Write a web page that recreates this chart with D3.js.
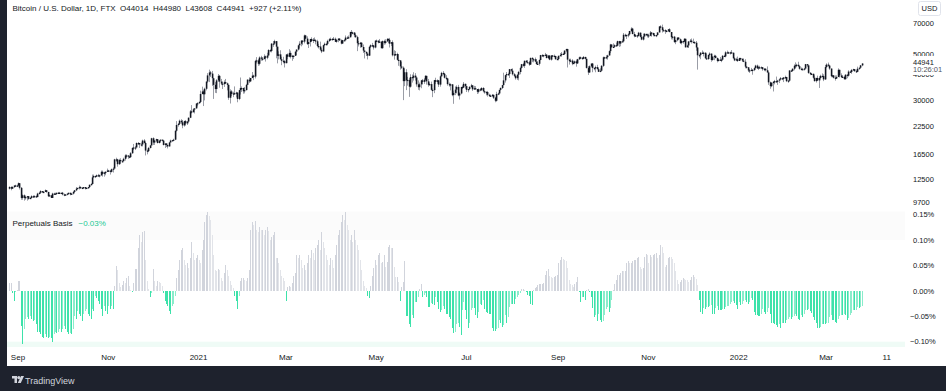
<!DOCTYPE html>
<html>
<head>
<meta charset="utf-8">
<script src="https://cdn.jsdelivr.net/npm/d3@7"></script>
<style>
  body { margin: 0; background: #1e222d; }
  svg text { font-family: "Liberation Sans", Arial, sans-serif; white-space: pre; }
  text.price { font-size: 7.5px; fill: #131722; }
  text.time { font-size: 8px; fill: #131722; text-anchor: middle; }
  text.legend { font-size: 8px; fill: #131722; }
  rect.col { shape-rendering: crispEdges; }
</style>
</head>
<body>
<script>
// daily BTCUSD (FTX), thousands of USD, from 2020-08-26 to 2022-03-25
var startDay = new Date(2020, 7, 26);
var firstOpen = 11.3;

var closes = [
  11.5,11.3,11.5,11.7,11.7,11.7,
  12.0,11.4,10.2,10.5,10.2,10.3,10.4,10.1,10.2,10.4,10.4,10.4,10.3,10.7,10.8,11.0,10.9,10.9,11.1,10.9,10.4,10.5,10.2,10.7,10.7,10.7,10.8,10.7,10.8,10.8,
  10.6,10.6,10.6,10.7,10.8,10.6,10.7,10.9,11.1,11.3,11.4,11.5,11.4,11.4,11.5,11.3,11.4,11.5,11.8,11.9,12.8,13.0,12.9,13.1,13.0,13.1,13.6,13.3,13.5,13.6,13.8,
  13.8,13.6,14.0,14.1,15.6,15.6,14.8,15.5,15.3,15.3,15.7,16.3,16.3,16.1,16.0,16.7,17.7,17.8,17.8,18.7,18.7,18.4,18.4,19.2,18.7,17.2,17.1,17.7,18.2,19.7,
  18.8,19.2,19.5,18.7,19.2,19.4,19.2,18.3,18.6,18.3,18.0,18.8,19.2,19.3,19.4,21.4,22.8,23.1,23.9,23.5,22.7,23.8,23.2,23.7,24.7,26.5,26.3,27.1,27.4,28.9,29.0,
  29.4,32.1,33.0,32.0,34.0,36.8,39.4,40.7,40.2,38.2,35.5,33.9,37.3,39.2,36.8,36.0,35.8,36.6,36.1,35.5,30.8,33.0,32.1,32.3,32.4,32.6,30.4,33.5,34.3,34.3,33.1,
  33.5,35.5,37.6,36.9,38.3,39.3,38.9,46.2,46.5,44.8,48.0,47.4,47.2,48.6,47.9,49.1,52.1,51.6,55.9,56.0,57.5,54.1,48.9,49.7,47.1,46.3,46.1,45.1,
  49.6,48.4,50.5,48.4,48.9,48.9,51.2,52.4,54.9,55.9,57.8,57.2,61.2,59.1,55.7,56.9,58.9,57.6,58.4,58.0,57.4,54.5,54.2,52.3,51.3,55.0,55.8,55.8,57.6,58.7,58.9,
  58.8,59.0,57.1,58.2,59.1,58.0,56.0,58.1,58.1,59.8,59.8,60.0,63.6,63.0,63.2,61.4,60.1,56.2,55.7,56.5,53.9,51.8,51.1,50.1,49.0,54.0,55.0,54.8,53.6,57.8,
  57.8,56.6,57.2,53.2,57.5,56.4,57.4,58.9,58.3,55.9,56.8,49.2,49.7,49.9,46.8,46.5,43.5,42.9,37.0,40.8,37.3,37.5,34.8,38.7,38.4,39.3,38.5,35.7,34.6,35.7,37.3,
  36.7,37.6,39.2,36.9,35.5,35.8,33.6,33.5,37.4,36.7,37.3,35.6,39.0,40.5,40.1,38.4,38.1,35.8,35.5,35.7,31.7,32.5,33.7,34.7,31.6,32.3,34.7,34.5,35.9,35.0,
  33.6,33.9,34.7,35.3,33.8,34.2,33.9,32.9,33.8,33.5,34.3,33.1,32.7,32.8,31.8,31.4,31.5,31.8,30.8,29.8,32.1,32.3,33.6,34.3,35.4,37.3,39.5,40.0,40.0,42.2,41.5,
  39.9,39.2,38.2,39.7,40.9,42.8,44.6,43.8,46.3,45.6,45.5,44.4,47.8,47.1,47.1,45.9,44.7,44.8,46.7,49.3,48.9,49.3,49.5,47.7,49.0,46.9,49.1,48.9,48.8,47.1,47.2,
  48.9,49.3,50.0,49.9,51.8,52.7,46.9,46.1,46.4,44.9,45.2,46.0,45.0,47.1,48.1,47.8,47.3,48.3,47.3,42.8,40.7,43.6,44.9,42.8,42.7,43.2,42.2,41.0,41.5,43.8,
  48.1,47.7,48.2,49.1,51.5,55.4,53.8,54.0,55.0,54.7,57.5,56.0,57.4,57.4,61.7,60.9,61.5,62.0,64.3,66.0,62.2,60.7,61.3,60.9,63.1,60.3,58.5,60.6,62.3,61.9,61.3,
  61.0,63.2,62.9,61.5,61.0,61.5,63.3,67.6,67.0,64.9,64.9,64.1,64.4,65.5,63.6,60.1,60.4,56.9,58.1,59.8,58.7,56.3,57.6,57.2,59.0,53.7,54.8,57.3,57.8,57.0,
  56.9,56.5,53.6,49.2,49.3,50.6,50.6,50.6,47.6,47.2,49.4,50.1,46.7,48.4,48.9,47.7,46.2,46.9,46.7,46.9,48.9,48.6,50.8,50.8,50.4,50.8,50.6,47.6,46.5,47.1,46.2,
  47.7,47.3,46.4,45.8,43.4,43.1,41.6,41.7,41.9,41.8,42.7,43.9,42.6,43.1,43.1,43.1,42.2,42.4,41.7,40.7,36.5,35.0,36.3,36.7,37.0,36.8,37.2,37.7,38.2,37.9,38.5,
  38.7,37.0,37.2,41.6,41.4,42.4,43.8,44.1,44.3,43.6,42.4,42.2,42.1,42.5,44.6,44.0,40.5,40.0,40.1,38.4,37.0,38.3,37.3,38.3,39.2,39.1,37.7,43.2,
  44.4,43.9,42.5,39.1,39.4,38.4,38.1,38.7,41.9,39.4,38.7,38.8,37.8,39.7,39.3,41.1,40.9,41.8,42.2,41.3,41.0,42.4,42.9,44.014,44.941
];

var highs = [
  11.6,11.6,11.6,11.7,11.8,11.8,
  12.1,12.0,11.5,10.6,10.6,10.4,10.4,10.4,10.3,10.5,10.5,10.5,10.5,10.8,10.9,11.1,11.0,11.0,11.2,11.1,10.9,10.6,10.5,10.8,10.8,10.8,10.8,10.9,10.9,10.8,
  10.9,10.7,10.6,10.7,10.8,10.8,10.7,11.0,11.1,11.5,11.4,11.7,11.6,11.5,11.5,11.5,11.4,11.5,11.8,12.0,13.2,13.2,13.0,13.2,13.3,13.2,13.8,13.8,13.6,13.7,14.1,
  13.9,13.8,14.1,14.3,15.7,15.9,15.7,15.7,15.8,15.5,15.9,16.5,16.5,16.3,16.2,16.9,17.8,18.5,18.1,18.8,18.9,18.7,18.8,19.4,19.5,18.9,17.4,17.9,18.3,19.8,
  19.9,19.3,19.6,19.5,19.2,19.4,19.4,19.3,18.6,18.6,18.3,18.9,19.4,19.3,19.6,21.5,23.8,23.3,24.2,24.3,24.1,23.9,24.1,23.8,24.8,26.9,28.4,27.4,27.4,28.9,29.3,
  29.6,33.3,34.8,33.6,34.4,36.9,40.4,42.0,41.4,41.4,38.4,36.6,37.8,40.0,39.6,37.9,36.8,37.3,37.9,36.4,35.6,33.8,33.5,32.9,34.9,32.9,32.6,33.6,38.5,34.9,34.4,
  34.7,35.9,37.7,38.6,38.3,40.9,39.7,46.8,48.2,47.3,48.6,48.9,48.2,49.7,49.0,50.6,52.6,52.5,56.3,57.6,58.4,57.5,54.2,51.4,52.0,48.4,48.4,46.6,
  49.8,50.2,52.6,51.8,49.4,49.2,51.4,52.4,54.9,57.4,58.1,58.0,61.8,61.6,60.6,56.9,58.9,60.0,59.5,59.9,58.6,58.4,55.8,57.2,53.2,55.1,56.6,56.5,58.4,59.4,59.8,
  59.5,60.2,59.8,58.5,59.3,59.4,58.6,58.3,58.9,61.2,60.7,61.2,63.8,65.0,63.8,63.5,62.5,61.0,57.6,57.0,56.8,55.4,52.0,51.2,50.5,54.4,55.5,56.4,55.2,58.0,
  58.5,57.9,58.9,57.2,57.9,58.4,58.7,59.5,59.3,59.6,56.9,58.0,52.0,51.6,50.6,49.8,46.6,45.8,43.5,42.5,42.2,38.8,38.3,39.9,39.8,40.8,40.4,38.8,37.3,36.4,37.5,
  37.9,38.2,39.5,39.3,37.9,36.4,36.8,34.1,37.5,38.4,37.7,37.4,39.4,41.0,41.3,40.5,39.5,38.2,36.4,36.1,35.8,33.3,34.9,35.3,35.5,32.7,34.7,35.3,36.6,36.0,
  35.0,33.9,35.0,35.9,35.3,35.1,35.0,33.9,34.1,34.2,34.6,34.6,33.3,33.1,33.2,32.2,31.9,32.1,31.9,31.1,32.9,32.6,33.6,34.5,35.4,40.6,39.5,40.9,40.6,42.3,42.4,
  42.6,40.4,39.7,39.9,41.4,43.4,44.7,45.3,46.4,46.7,46.7,46.2,47.9,48.1,47.4,48.0,47.1,46.0,47.0,49.4,49.8,49.5,50.5,49.8,49.3,49.3,49.2,49.3,49.6,48.9,48.2,
  49.0,50.4,51.0,50.6,51.9,52.9,52.9,47.4,47.4,47.1,45.9,46.4,46.9,47.3,48.5,48.5,48.2,48.8,48.4,47.4,43.6,44.0,44.9,45.2,42.9,43.9,44.3,42.8,42.6,44.1,
  48.5,48.4,49.2,49.5,51.9,55.8,55.4,56.1,55.5,56.6,57.8,57.7,57.6,58.6,62.9,62.4,61.7,62.7,64.4,67.0,66.6,63.7,61.7,61.5,63.7,63.3,61.5,62.5,62.9,62.3,62.4,
  62.4,64.3,63.5,63.1,62.6,61.6,63.3,67.8,68.5,69.0,65.6,65.5,65.0,65.5,66.3,63.6,60.8,60.9,58.3,59.8,60.0,59.2,57.9,57.7,59.4,59.1,55.3,57.4,58.8,59.2,
  59.1,57.4,57.6,53.9,49.7,50.9,51.9,51.2,50.8,50.1,49.5,50.8,50.2,48.7,49.5,49.4,48.0,47.3,48.3,47.5,49.3,49.5,51.4,51.8,51.2,51.2,52.1,50.7,48.1,47.9,48.5,
  47.9,47.9,47.5,47.5,47.1,43.7,43.1,42.3,42.8,42.2,43.1,44.3,44.4,43.4,43.8,43.5,43.2,42.7,42.6,43.5,41.1,36.8,36.5,37.0,37.5,38.9,37.5,38.0,38.7,38.4,38.7,
  39.3,38.8,37.4,41.7,41.9,42.6,44.5,45.5,44.8,45.8,43.9,43.0,42.8,42.8,44.7,44.6,44.1,40.9,40.5,40.2,39.4,38.4,39.3,39.0,39.7,40.3,39.9,44.2,
  45.0,45.4,44.1,42.5,39.6,39.5,39.4,39.4,42.6,42.0,40.3,39.4,39.3,39.9,39.9,41.7,41.5,42.3,42.4,42.3,42.0,43.4,43.0,44.2,44.98
];

var lows = [
  11.2,11.1,11.3,11.4,11.6,11.5,
  11.6,11.2,10.0,10.0,9.9,10.0,9.9,10.0,10.1,10.2,10.2,10.3,10.2,10.3,10.6,10.7,10.8,10.8,10.9,10.8,10.3,10.4,10.2,10.2,10.6,10.7,10.6,10.7,10.7,10.7,
  10.5,10.4,10.5,10.5,10.6,10.5,10.6,10.6,10.8,11.0,11.3,11.2,11.3,11.3,11.3,11.2,11.3,11.3,11.4,11.7,11.9,12.7,12.7,12.9,12.9,12.8,13.0,12.9,12.9,13.1,13.6,
  13.6,13.2,13.5,13.5,14.1,15.2,14.4,14.7,14.9,15.1,15.3,15.4,15.9,15.7,15.8,15.9,16.6,17.3,17.3,17.8,18.3,17.7,18.0,18.0,18.6,16.3,16.5,16.9,17.6,18.2,
  18.3,18.3,18.9,18.6,18.6,18.9,19.0,18.2,17.7,17.9,17.6,18.0,18.8,19.0,19.1,19.3,21.2,22.4,22.8,23.1,22.0,22.4,22.7,22.8,23.5,24.6,25.9,26.1,25.9,27.3,28.0,
  28.8,29.1,32.0,28.1,29.9,33.4,36.3,36.6,38.7,35.1,30.4,32.5,32.4,36.7,34.4,35.4,33.9,34.7,35.8,33.4,30.1,28.9,31.4,31.0,31.9,30.9,29.3,30.0,31.9,32.8,32.2,
  32.3,33.4,35.4,36.2,36.6,38.2,37.4,38.1,45.0,43.8,44.0,46.3,46.3,47.0,45.9,47.1,48.9,50.9,50.8,54.0,55.5,47.6,45.0,47.0,46.8,44.1,45.0,43.0,
  45.0,47.1,48.1,47.5,46.3,47.2,48.9,49.3,51.9,53.1,54.3,55.0,56.1,59.0,55.1,53.3,54.2,57.0,56.3,57.9,55.5,53.7,53.0,51.7,50.4,51.3,54.4,54.7,54.9,57.0,57.9,
  57.9,58.4,57.0,56.5,56.8,57.6,55.5,55.8,57.7,57.9,59.0,59.4,59.9,61.0,62.0,60.0,59.6,51.5,54.2,53.4,53.6,50.5,47.5,48.8,47.0,48.8,53.3,53.9,52.4,53.1,
  57.1,56.1,56.5,53.1,52.9,55.3,55.5,56.9,56.2,53.6,54.5,48.6,46.9,48.9,46.6,43.8,42.0,42.3,30.0,35.0,33.5,35.2,31.1,34.4,36.4,37.2,37.2,34.8,33.6,33.4,34.2,
  35.7,35.9,37.2,35.6,34.8,35.3,33.4,31.0,32.4,35.8,35.9,34.7,34.8,38.8,39.5,38.1,37.4,35.2,34.8,33.4,31.3,28.8,31.7,32.3,31.3,30.2,32.0,33.9,34.3,34.0,
  32.8,32.7,33.6,34.4,33.2,33.6,33.8,32.1,32.3,33.1,33.3,32.7,32.2,31.6,31.2,31.1,31.2,31.1,30.4,29.3,29.5,31.7,32.0,33.4,33.9,35.3,36.4,38.8,39.3,38.3,41.0,
  39.4,38.7,37.6,37.5,37.3,39.9,42.5,43.4,42.8,45.3,45.4,43.8,44.2,45.6,45.5,45.7,44.4,44.2,43.9,46.6,48.3,48.1,49.1,47.6,47.2,46.6,46.4,48.4,48.1,46.9,46.7,
  46.6,48.7,48.5,49.5,49.5,50.9,43.0,44.4,45.6,44.1,44.8,44.8,43.4,44.7,46.7,47.2,46.8,47.1,47.0,42.5,39.6,40.6,43.1,40.8,41.7,40.8,42.1,40.9,40.8,41.4,
  43.3,47.4,47.1,46.9,49.1,50.4,53.4,53.7,53.7,54.1,54.4,54.0,54.3,56.9,56.9,60.2,58.9,60.0,61.3,63.5,62.0,60.0,60.2,59.6,60.7,59.9,58.1,57.9,60.2,60.8,59.9,
  59.5,60.7,60.4,60.7,60.8,60.1,61.4,63.3,66.3,63.2,64.1,62.3,63.5,63.6,63.3,58.6,58.5,56.5,55.6,57.4,58.6,55.7,55.4,55.9,57.0,53.6,53.7,53.3,56.7,56.0,
  56.5,55.9,51.7,42.0,47.9,47.1,50.1,48.6,47.3,46.9,46.8,48.6,45.8,46.3,46.6,47.6,45.5,45.9,46.4,45.6,46.6,48.4,48.1,50.4,50.2,49.6,50.5,47.3,46.1,46.1,45.7,
  46.2,46.7,45.7,45.6,42.6,42.5,40.9,40.5,41.3,39.7,41.3,42.5,42.3,41.8,42.6,42.6,41.5,41.3,41.2,40.6,35.5,34.0,34.6,33.0,35.7,36.3,35.5,36.2,37.4,37.4,36.6,
  38.0,36.6,36.3,37.0,40.9,41.2,41.7,42.7,43.1,43.2,42.0,41.7,41.9,41.6,42.4,43.3,40.1,39.5,39.6,38.0,36.8,36.4,37.1,34.3,38.0,38.6,37.0,37.5,
  42.8,43.4,41.9,38.6,38.6,38.1,37.2,37.9,38.7,38.5,38.3,38.7,37.6,37.6,38.2,38.9,40.5,40.1,41.5,41.0,40.5,40.9,41.9,42.6,43.608
];

// perpetual futures basis, percent, same days
var basis = [
  0.015,0.016,-0.005,-0.02,-0.003,0.002,0.02,0.02,-0.07,-0.105,
  -0.075,-0.055,-0.052,-0.055,-0.05,-0.055,-0.06,-0.058,-0.065,-0.08,
  -0.08,-0.085,-0.09,-0.092,-0.085,-0.09,-0.092,-0.09,-0.093,-0.1,
  -0.085,-0.08,-0.082,-0.08,-0.075,-0.08,-0.075,-0.07,-0.075,-0.08,
  -0.085,-0.082,-0.085,-0.075,-0.05,-0.055,-0.04,-0.045,-0.05,-0.06,
  -0.045,-0.04,-0.035,-0.045,-0.05,-0.055,-0.035,-0.04,-0.01,-0.015,
  -0.02,-0.025,-0.035,-0.05,-0.03,-0.04,-0.045,-0.03,-0.035,-0.03,
  -0.035,0.01,0.048,0.04,0.015,0.008,0.012,0.02,0.015,0.025,
  0.03,0.01,0.002,-0.003,0.015,0.042,0.043,0.085,0.11,0.095,
  0.115,0.117,0.06,0.02,0.003,-0.012,-0.005,0.042,0.02,0.01,
  0.02,0.018,0.015,0.01,-0.005,-0.02,-0.025,-0.03,-0.04,-0.045,
  -0.03,-0.025,-0.01,0.025,0.04,0.06,0.08,0.085,0.06,0.05,
  0.055,0.045,0.065,0.095,0.075,0.06,0.065,0.07,0.06,0.055,
  0.08,0.1,0.135,0.15,0.155,0.148,0.14,0.11,0.07,0.04,
  0.038,0.042,0.04,0.025,0.02,0.035,0.05,0.04,0.03,0.02,
  0.012,0.005,-0.01,-0.02,-0.035,-0.01,0.02,0.025,0.025,0.022,
  0.02,0.025,0.04,0.12,0.135,0.13,0.138,0.12,0.115,0.125,
  0.12,0.12,0.11,0.12,0.125,0.118,0.1,0.105,0.11,0.115,
  0.065,0.065,0.055,0.04,0.03,0.025,0.02,-0.02,0.008,0.01,
  0.008,0.015,0.03,0.035,0.07,0.065,0.07,0.06,0.045,0.05,
  0.04,0.055,0.07,0.065,0.08,0.075,0.06,0.085,0.09,0.1,
  0.08,0.115,0.095,0.085,0.07,0.06,0.05,0.065,0.06,0.045,
  0.07,0.09,0.11,0.12,0.135,0.15,0.14,0.155,0.13,0.12,
  0.1,0.11,0.095,0.12,0.1,0.09,0.08,0.06,0.04,0.02,
  0.01,0.005,-0.01,-0.015,0.01,0.03,0.045,0.06,0.05,0.07,
  0.075,0.054,0.057,0.07,0.047,0.057,0.087,0.09,0.084,0.084,
  0.047,0.028,0.028,0.018,-0.02,0.008,0.018,0.058,-0.05,-0.05,
  -0.065,-0.072,-0.048,-0.053,-0.022,-0.022,-0.012,0.003,0.014,-0.012,
  -0.009,-0.005,-0.012,-0.032,-0.032,-0.024,-0.026,-0.028,-0.012,-0.022,
  -0.035,-0.041,-0.038,-0.03,-0.035,-0.045,-0.046,-0.051,-0.055,-0.074,
  -0.083,-0.081,-0.066,-0.064,-0.071,-0.086,-0.038,-0.022,-0.038,-0.055,
  -0.074,-0.064,-0.038,-0.033,-0.033,-0.048,-0.053,-0.041,-0.025,-0.028,
  -0.018,-0.035,-0.041,-0.043,-0.045,-0.045,-0.074,-0.078,-0.078,-0.076,
  -0.073,-0.058,-0.064,-0.071,-0.068,-0.048,-0.064,-0.051,-0.032,-0.025,
  -0.026,-0.026,-0.017,-0.012,-0.009,-0.005,0.003,0.003,0.001,-0.002,
  -0.009,-0.011,-0.025,-0.028,0.002,0.005,0.008,0.011,0.014,0.014,
  0.014,0.016,0.031,0.038,0.042,0.029,0.028,0.026,0.028,0.029,
  0.031,0.054,0.061,0.066,0.062,0.061,0.059,0.044,0.021,0.014,
  0.011,0.007,0.013,0.018,0.028,-0.003,-0.022,-0.012,-0.013,-0.018,
  0.002,0.003,-0.002,-0.012,-0.033,-0.051,-0.048,-0.059,-0.045,-0.057,
  -0.061,-0.059,-0.048,-0.035,-0.032,-0.041,-0.033,-0.018,0.002,0.014,
  0.021,0.031,0.031,0.036,0.039,0.038,0.038,0.054,0.059,0.054,
  0.055,0.059,0.061,0.061,0.064,0.067,0.047,0.042,0.044,0.066,
  0.072,0.07,0.054,0.07,0.067,0.07,0.072,0.074,0.064,0.07,
  0.09,0.087,0.074,0.047,0.051,0.064,0.067,0.066,0.062,0.054,
  0.038,0.022,0.014,0.018,0.021,0.026,0.024,0.022,0.021,0.018,
  0.021,0.028,0.031,0.028,0.024,0.011,-0.018,-0.041,-0.045,-0.033,
  -0.035,-0.032,-0.032,-0.03,-0.028,-0.045,-0.045,-0.033,-0.03,-0.037,
  -0.038,-0.038,-0.035,-0.035,-0.032,-0.03,-0.029,-0.026,-0.022,-0.02,
  -0.024,-0.028,-0.035,-0.022,-0.028,-0.025,-0.02,-0.018,-0.022,-0.025,
  -0.022,-0.015,-0.018,-0.041,-0.048,-0.048,-0.05,-0.05,-0.045,-0.035,
  -0.041,-0.045,-0.041,-0.033,-0.045,-0.063,-0.064,-0.066,-0.068,-0.071,
  -0.066,-0.073,-0.063,-0.064,-0.064,-0.058,-0.055,-0.051,-0.055,-0.051,
  -0.049,-0.046,-0.05,-0.055,-0.057,-0.048,-0.051,-0.045,-0.038,-0.038,
  -0.035,-0.039,-0.043,-0.051,-0.057,-0.064,-0.074,-0.074,-0.071,-0.066,
  -0.066,-0.066,-0.064,-0.063,-0.051,-0.048,-0.057,-0.058,-0.061,-0.064,
  -0.055,-0.05,-0.048,-0.048,-0.045,-0.048,-0.058,-0.053,-0.048,-0.043,
  -0.038,-0.038,-0.037,-0.032,-0.033,-0.032,-0.03
];

var priceTicks = [70000, 50000, 40000, 30000, 22500, 16500, 12500, 9700];
var basisTicks = [0.15, 0.10, 0.05, 0, -0.05, -0.10];
var timeTicks = ["2020-09-01", "2020-11-01", "2021-01-01", "2021-03-01", "2021-05-01", "2021-07-01",
                 "2021-09-01", "2021-11-01", "2022-01-01", "2022-03-01", "2022-04-11"];
var timeLabels = ["Sep", "Nov", "2021", "Mar", "May", "Jul", "Sep", "Nov", "2022", "Mar", "11"];

var width = 946, height = 391;

var svg = d3.select("body").append("svg")
  .attr("width", width)
  .attr("height", height);

/* frame */
svg.append("rect").attr("width", width).attr("height", height).attr("fill", "#1e222d");
svg.append("rect").attr("x", 7).attr("y", 0).attr("width", width - 7).attr("height", 366).attr("fill", "#ffffff");

var candles = closes.map(function(c, i) {
  return {
    date: d3.timeDay.offset(startDay, i),
    o: (i ? closes[i - 1] : firstOpen) * 1000,
    h: highs[i] * 1000,
    l: lows[i] * 1000,
    c: c * 1000,
    b: basis[i],
    pb: i ? basis[i - 1] : basis[i]
  };
});

var x = d3.scaleTime()
  .domain([candles[0].date, candles[candles.length - 1].date])
  .range([9.1, 861.6]);
var y = d3.scaleLog().domain([9700, 70000]).range([202.5, 23.3]);
var yb = d3.scaleLinear().domain([-0.10, 0.15]).range([341.7, 214.5]);

/* indicator background bands */
svg.append("rect").attr("x", 7).attr("width", 898)
  .attr("y", 211.5).attr("height", yb(0.10) - 211.5).attr("fill", "#fbfbfb");
svg.append("rect").attr("x", 7).attr("width", 898)
  .attr("y", yb(-0.10)).attr("height", 347 - yb(-0.10)).attr("fill", "#effbf6");

/* candles */
var px = function(d) { return Math.round(x(d.date)); };

svg.append("g").selectAll("line.wick")
  .data(candles).enter().append("line")
  .attr("class", "wick")
  .attr("x1", function(d) { return px(d) + 0.5; })
  .attr("x2", function(d) { return px(d) + 0.5; })
  .attr("y1", function(d) { return y(d.h); })
  .attr("y2", function(d) { return y(d.l); })
  .attr("stroke", "#9a9da6")
  .attr("stroke-width", 1);

svg.append("g").selectAll("rect.body")
  .data(candles).enter().append("rect")
  .attr("class", "body")
  .attr("x", function(d) { return px(d) - 0.2; })
  .attr("width", 1.6)
  .attr("y", function(d) { return y(Math.max(d.o, d.c)); })
  .attr("height", function(d) { return Math.max(1.2, y(Math.min(d.o, d.c)) - y(Math.max(d.o, d.c))); })
  .attr("fill", "#131722");

/* basis histogram */
svg.append("g").selectAll("rect.col")
  .data(candles).enter().append("rect")
  .attr("class", "col")
  .attr("x", px)
  .attr("width", 1)
  .attr("y", function(d) { return yb(Math.max(d.b, 0)); })
  .attr("height", function(d) { return Math.abs(yb(d.b) - yb(0)); })
  .attr("fill", function(d) {
    if (d.b >= 0) return d.b >= d.pb ? "#d1d4dc" : "#e2e4e9";
    return d.b <= d.pb ? "#3de2aa" : "#8aeccb";
  });

/* price scale */
svg.selectAll("text.price-p")
  .data(priceTicks).enter().append("text")
  .attr("class", "price")
  .attr("x", 913)
  .attr("y", function(d) { return y(d); })
  .attr("dy", "0.36em")
  .text(function(d) { return d; });

/* last price label covers the 40000 tick */
svg.append("rect").attr("x", 908).attr("y", 56).attr("width", 38).attr("height", 19).attr("fill", "#ffffff");
svg.append("text").attr("class", "price").attr("x", 913).attr("y", 62).attr("dy", "0.36em")
  .text(d3.format("d")(closes[closes.length - 1] * 1000));
svg.append("text").attr("class", "price").attr("x", 913).attr("y", 69.5).attr("dy", "0.36em")
  .style("fill", "#50535e").text("10:26:01");

/* currency box */
svg.append("rect").attr("x", 918.5).attr("y", 1.5).attr("width", 22).attr("height", 14)
  .attr("rx", 2).attr("fill", "#ffffff").attr("stroke", "#e0e3eb");
svg.append("text").attr("class", "price").attr("x", 929.5).attr("y", 8.5).attr("dy", "0.36em")
  .attr("text-anchor", "middle").text("USD");

/* basis scale */
svg.selectAll("text.price-b")
  .data(basisTicks).enter().append("text")
  .attr("class", "price")
  .attr("x", function(d) { return d < 0 ? 910 : 913; })
  .attr("y", function(d) { return yb(d); })
  .attr("dy", "0.36em")
  .text(function(d) { return d3.format(".2f")(d).replace("-", "\u2212") + "%"; });

/* time scale */
var parse = d3.timeParse("%Y-%m-%d");
svg.selectAll("text.time")
  .data(timeTicks).enter().append("text")
  .attr("class", "time")
  .attr("x", function(d) { return x(parse(d)); })
  .attr("y", 360)
  .text(function(d, i) { return timeLabels[i]; });

/* legends */
svg.append("text").attr("class", "legend").attr("x", 12.5).attr("y", 10.5)
  .text("Bitcoin / U.S. Dollar, 1D, FTX  O44014  H44980  L43608  C44941  +927 (+2.11%)");
svg.append("text").attr("class", "legend").attr("x", 12.5).attr("y", 226)
  .text("Perpetuals Basis");
svg.append("text").attr("class", "legend").attr("x", 78.5).attr("y", 226)
  .style("fill", "#22c993")
  .text(d3.format(".2f")(basis[basis.length - 1]).replace("-", "\u2212") + "%");

/* footer */
var logo = svg.append("g").attr("transform", "translate(12,376)").attr("fill", "#d1d4dc");
logo.append("path").attr("d", "M0,0 h5 v7 h-2.5 v-4.5 h-2.5 z");
logo.append("circle").attr("cx", 6.8).attr("cy", 1.6).attr("r", 1.6);
logo.append("path").attr("d", "M9,0 h3 l-3.2,7 h-3 z");
svg.append("text").attr("x", 25).attr("y", 383.5)
  .style("font-size", "9px").style("fill", "#d1d4dc")
  .text("TradingView");
</script>
</body>
</html>
